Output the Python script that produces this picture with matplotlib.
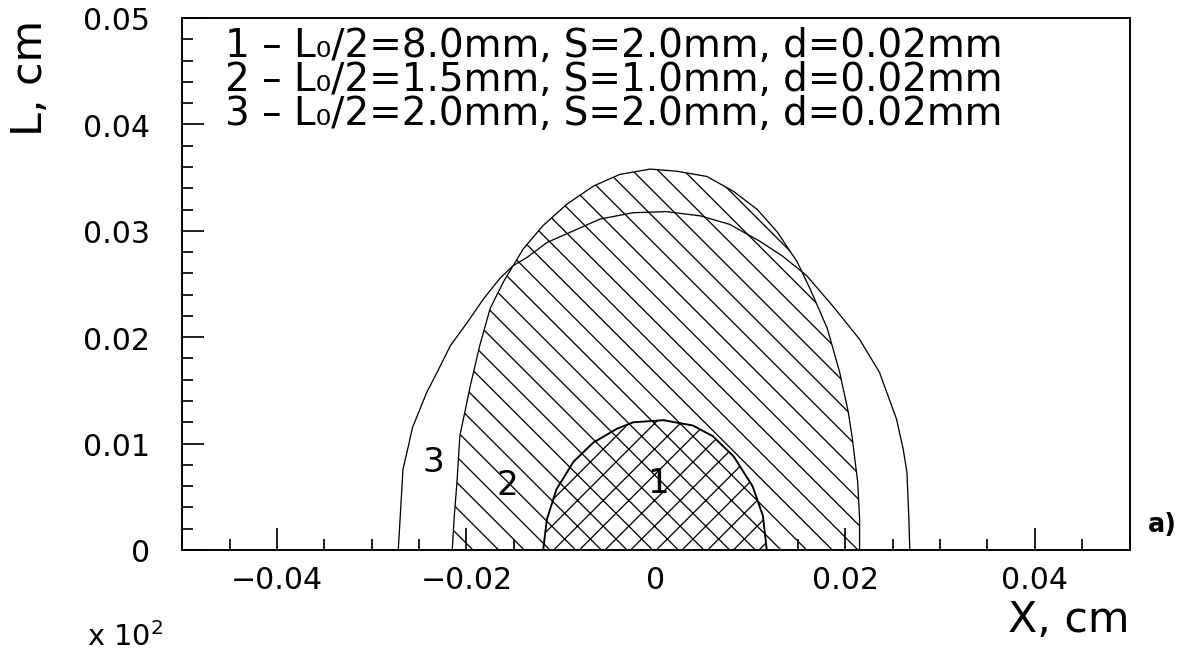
import matplotlib
matplotlib.use("Agg")
import matplotlib.pyplot as plt
from matplotlib.ticker import MultipleLocator

# curve 3 - outline only
x3 = [-0.0272, -0.0270, -0.0267, -0.0262, -0.0257, -0.0242, -0.0231, -0.0217, -0.0199,
      -0.0182, -0.0165, -0.0151, -0.0136, -0.0115, -0.0087, -0.0059, -0.0024, 0.0011,
      0.0047, 0.0078, 0.0110, 0.0134, 0.0159, 0.0187, 0.0215, 0.0236, 0.0254,
      0.0261, 0.0265, 0.0267, 0.0268]
y3 = [0.0, 0.0030, 0.0076, 0.0095, 0.0115, 0.0148, 0.0167, 0.0192, 0.0214,
      0.0236, 0.0255, 0.0267, 0.0275, 0.0289, 0.0300, 0.0311, 0.0317, 0.0318,
      0.0314, 0.0306, 0.0290, 0.0276, 0.0258, 0.0229, 0.0198, 0.0167, 0.0123,
      0.0095, 0.0073, 0.0030, 0.0]

# curve 2 - single hatch
x2 = [-0.0215, -0.0213, -0.0210, -0.0207, -0.0196, -0.0186, -0.0175, -0.0161, -0.0140,
      -0.0119, -0.0094, -0.0066, -0.0038, -0.0006, 0.0022, 0.0054, 0.0082, 0.0107,
      0.0128, 0.0149, 0.0163, 0.0181, 0.0194, 0.0203, 0.0207, 0.0213, 0.0215, 0.0215]
y2 = [0.0, 0.0030, 0.0064, 0.0107, 0.0154, 0.0192, 0.0227, 0.0252, 0.0283,
      0.0305, 0.0325, 0.0342, 0.0353, 0.0358, 0.0356, 0.0351, 0.0337, 0.0320,
      0.0299, 0.0271, 0.0245, 0.0208, 0.0167, 0.0130, 0.0107, 0.0064, 0.0030, 0.0]

# curve 1 - cross hatch
x1 = [-0.0119, -0.0117, -0.0115, -0.0105, -0.0087, -0.0066, -0.0041, -0.0024, 0.0008,
      0.0039, 0.0060, 0.0082, 0.0102, 0.0113, 0.0117]
y1 = [0.0, 0.0015, 0.0029, 0.0057, 0.0083, 0.0101, 0.0114, 0.0120, 0.0122,
      0.0117, 0.0107, 0.0088, 0.0060, 0.0032, 0.0]

legend_lines = [
    "1 – L₀/2=8.0mm, S=2.0mm, d=0.02mm",
    "2 – L₀/2=1.5mm, S=1.0mm, d=0.02mm",
    "3 – L₀/2=2.0mm, S=2.0mm, d=0.02mm",
]
curve_labels = ["1", "2", "3"]
label_pos = [(0.0002, 0.0063), (-0.0157, 0.0062), (-0.0235, 0.0083)]

xticks = [-0.04, -0.02, 0.0, 0.02, 0.04]
xticklabels = ["−0.04", "−0.02", "0", "0.02", "0.04"]
yticks = [0.0, 0.01, 0.02, 0.03, 0.04, 0.05]
yticklabels = ["0", "0.01", "0.02", "0.03", "0.04", "0.05"]

DPI = 154
plt.rcParams['hatch.linewidth'] = 0.6
fig = plt.figure(figsize=(1189 / DPI, 655 / DPI), dpi=DPI)
ax = fig.add_axes([0.1533, 0.1588, 0.7967, 0.8122])

# filled regions
ax.fill(x2, y2, facecolor='white', edgecolor='black', hatch='\\\\', linewidth=0, zorder=1)
ax.fill(x1, y1, facecolor='white', edgecolor='black', hatch='xx', linewidth=0, zorder=2)

# outlines
ax.plot(x3, y3, color='black', lw=0.6, zorder=3)
ax.plot(x2, y2, color='black', lw=0.6, zorder=3)
ax.plot(x1, y1, color='black', lw=0.9, zorder=3)

for lab, (lx, ly) in zip(curve_labels, label_pos):
    ax.text(lx, ly, lab, fontsize=16, ha='center', va='center', zorder=4)

# legend block as one text
ax.text(0.045, 0.885, "\n".join(legend_lines), transform=ax.transAxes,
        fontsize=18.2, ha='left', va='center', linespacing=0.87)

ax.set_xlim(-0.05, 0.05)
ax.set_ylim(0, 0.05)
ax.set_xticks(xticks)
ax.set_xticklabels(xticklabels)
ax.set_yticks(yticks)
ax.set_yticklabels(yticklabels)
ax.xaxis.set_minor_locator(MultipleLocator(0.005))
ax.yaxis.set_minor_locator(MultipleLocator(0.002))
ax.tick_params(which='both', direction='in', top=False, right=False, width=0.8)
ax.tick_params(which='major', length=10.5, labelsize=14)
ax.tick_params(axis='y', which='major', pad=15)
ax.tick_params(axis='x', which='major', pad=7)
ax.tick_params(which='minor', length=5)
for s in ax.spines.values():
    s.set_linewidth(0.9)

ax.set_xlabel("X, cm", fontsize=20, loc='right')
ax.xaxis.set_label_coords(1.0, -0.09)
ax.set_ylabel("L, cm", fontsize=20, loc='top')
ax.yaxis.set_label_coords(-0.139, 0.998)

fig.text(1148 / 1189, 0.188, "a)", fontsize=12, fontweight='bold', va='baseline')
fig.text(0.073, 0.014, r"x 10$^2$", fontsize=13.5, va='baseline')

fig.savefig("out.png", dpi=DPI)
